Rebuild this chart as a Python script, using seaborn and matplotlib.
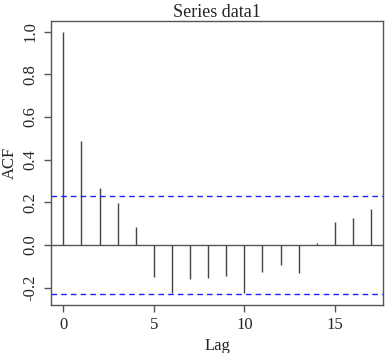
import seaborn as sns
import matplotlib.pyplot as plt

# ACF values
lags = list(range(18))
acf = [1.0, 0.488, 0.266, 0.198, 0.086, -0.148, -0.223, -0.159, -0.156,
       -0.145, -0.223, -0.128, -0.092, -0.133, 0.01, 0.109, 0.125, 0.167]
conf = 0.23
xticks = [0, 5, 10, 15]
yticks = [-0.2, 0.0, 0.2, 0.4, 0.6, 0.8, 1.0]

sns.set_style("ticks")
plt.rcParams['font.family'] = ['Liberation Serif', 'DejaVu Serif']

fig = plt.figure(figsize=(3.87, 3.53), dpi=100, facecolor='white')
ax = fig.add_axes([0.131, 0.136, 0.8595, 0.8054])

ax.vlines(lags, 0, acf, color='#444444', linewidth=1.0)
ax.axhline(0, color='#555555', linewidth=1.0)
ax.axhline(conf, color='#1f1fff', linestyle=(0, (4, 3)), linewidth=1.0)
ax.axhline(-conf, color='#1f1fff', linestyle=(0, (4, 3)), linewidth=1.0)

ax.set_xlim(-0.7, 17.68)
ax.set_ylim(-0.281, 1.0516)
ax.set_xticks(xticks)
ax.set_yticks(yticks)
ax.set_yticklabels([f"{v:.1f}" for v in yticks], rotation=90, va='center')

for s in ax.spines.values():
    s.set_color('#555555')
    s.set_linewidth(1.0)
ax.tick_params(direction='out', length=5, width=1.0, color='#555555',
               labelsize=12, pad=4)

ax.set_xlabel("Lag", fontsize=12, labelpad=3)
ax.set_ylabel("ACF", fontsize=12, labelpad=3)
ax.set_title("Series data1", fontsize=13, pad=3)

plt.savefig("out.png", dpi=100, facecolor='white')
plt.close(fig)
